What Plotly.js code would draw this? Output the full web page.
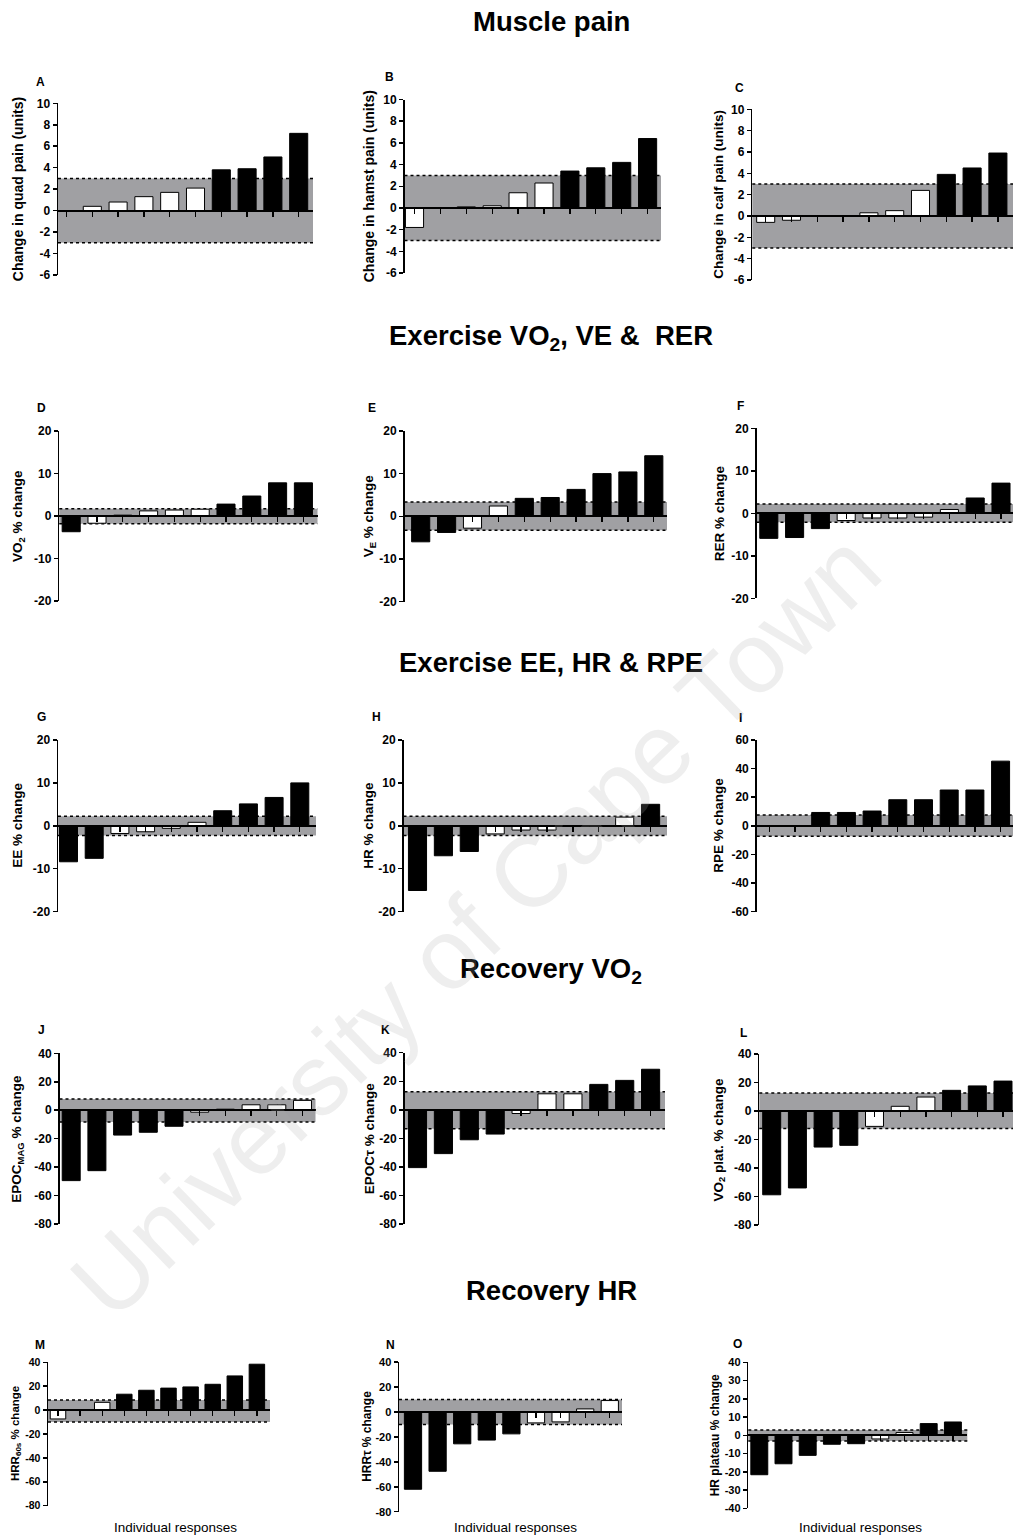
<!DOCTYPE html>
<html>
<head>
<meta charset="utf-8">
<script src="https://cdn.plot.ly/plotly-3.0.1.min.js"></script>
<style>
  html, body { margin: 0; padding: 0; background: #fff; }
  #chart { width: 1015px; height: 1537px; }
</style>
</head>
<body>
<div id="chart"></div>
<script>
// ---- Individual responses (one value per participant, sorted as plotted) ----
const quadPain   = [0, 0.4, 0.8, 1.3, 1.7, 2.1, 3.8, 3.9, 5.0, 7.2];
const hamstPain  = [-1.8, 0, 0.1, 0.2, 1.4, 2.3, 3.4, 3.7, 4.2, 6.4];
const calfPain   = [-0.6, -0.4, 0, 0, 0.3, 0.5, 2.4, 3.9, 4.5, 5.9];
const vo2Change  = [-3.7, -1.7, 0.2, 1.2, 1.4, 1.6, 2.8, 4.7, 7.8, 7.8];
const veChange   = [-6.0, -3.8, -2.8, 2.4, 4.2, 4.4, 6.3, 10.0, 10.4, 14.2];
const rerChange  = [-5.9, -5.7, -3.6, -1.7, -1.1, -1.1, -0.9, 0.9, 3.6, 7.1];
const eeChange   = [-8.4, -7.6, -1.8, -1.4, -0.6, 0.8, 3.5, 5.1, 6.6, 10.0];
const hrChange   = [-15.1, -7.0, -6.0, -1.9, -1.0, -1.0, 0, 0, 2.0, 5.0];
const rpeChange  = [0, 0, 9.3, 9.3, 10.3, 18.2, 18.2, 25, 25, 45.2];
const epocMag    = [-49.5, -42.5, -17.5, -15.5, -11.3, -1.4, 0.7, 3.8, 3.8, 6.9];
const epocTau    = [-40.5, -30.7, -21, -17, -2.6, 11.2, 11.2, 17.8, 20.6, 28.4];
const vo2Plateau = [-58.8, -54, -25.3, -24.1, -10.8, 3.3, 9.8, 14.5, 17.6, 21];
const hrr60      = [-7.4, 0, 6.5, 13.3, 16.6, 18.4, 19.4, 21.6, 28.6, 38.4];
const hrrTau     = [-62, -47.6, -25.6, -22.6, -17.6, -8.8, -8.0, 2.4, 9.1];
const hrPlateau  = [-21.6, -15.6, -11.0, -4.9, -4.6, -2.0, 1.5, 6.4, 7.3];

// ---- Typical-error bands [lower, upper] ----
const bandQuad = [-3, 3],      bandHamst = [-3, 3],    bandCalf = [-3, 3];
const bandVO2 = [-1.8, 1.7],   bandVE = [-3.3, 3.35],  bandRER = [-2.1, 2.2];
const bandEE = [-2.3, 2.2],    bandHR = [-2.3, 2.2],   bandRPE = [-7.3, 7.5];
const bandEpocMag = [-8.3, 7.8], bandEpocTau = [-13.2, 12.6], bandVO2Plat = [-12.3, 12.7];
const bandHRR60 = [-10, 8.5],  bandHRRTau = [-10.2, 10], bandHRPlat = [-3.1, 2.9];

// ---- Axis ranges and tick steps ----
const rangePain = [-6, 10],   stepPain = 2;
const rangeEx   = [-20, 20],  stepEx = 10;
const rangeRPE  = [-60, 60],  stepRPE = 20;
const rangeRec  = [-80, 40],  stepRec = 20;
const rangeHRP  = [-40, 40],  stepHRP = 10;

const panels = [
  {letter: 'A', values: quadPain,   band: bandQuad,    yr: rangePain, dt: stepPain, title: 'Change in quad pain (units)'},
  {letter: 'B', values: hamstPain,  band: bandHamst,   yr: rangePain, dt: stepPain, title: 'Change in hamst pain (units)'},
  {letter: 'C', values: calfPain,   band: bandCalf,    yr: rangePain, dt: stepPain, title: 'Change in calf pain (units)'},
  {letter: 'D', values: vo2Change,  band: bandVO2,     yr: rangeEx,   dt: stepEx,   title: 'VO<sub>2</sub> % change'},
  {letter: 'E', values: veChange,   band: bandVE,      yr: rangeEx,   dt: stepEx,   title: 'V<sub>E</sub> % change'},
  {letter: 'F', values: rerChange,  band: bandRER,     yr: rangeEx,   dt: stepEx,   title: 'RER % change'},
  {letter: 'G', values: eeChange,   band: bandEE,      yr: rangeEx,   dt: stepEx,   title: 'EE % change'},
  {letter: 'H', values: hrChange,   band: bandHR,      yr: rangeEx,   dt: stepEx,   title: 'HR % change'},
  {letter: 'I', values: rpeChange,  band: bandRPE,     yr: rangeRPE,  dt: stepRPE,  title: 'RPE % change'},
  {letter: 'J', values: epocMag,    band: bandEpocMag, yr: rangeRec,  dt: stepRec,  title: 'EPOC<sub>MAG</sub> % change'},
  {letter: 'K', values: epocTau,    band: bandEpocTau, yr: rangeRec,  dt: stepRec,  title: 'EPOC\u03c4 % change'},
  {letter: 'L', values: vo2Plateau, band: bandVO2Plat, yr: rangeRec,  dt: stepRec,  title: 'VO<sub>2</sub> plat. % change'},
  {letter: 'M', values: hrr60,      band: bandHRR60,   yr: rangeRec,  dt: stepRec,  title: 'HRR<sub>60s</sub> % change'},
  {letter: 'N', values: hrrTau,     band: bandHRRTau,  yr: rangeRec,  dt: stepRec,  title: 'HRR\u03c4 % change'},
  {letter: 'O', values: hrPlateau,  band: bandHRPlat,  yr: rangeHRP,  dt: stepHRP,  title: 'HR plateau % change'}
];

const sectionTitles = ['Muscle pain', 'Exercise VO<sub>2</sub>, VE &  RER', 'Exercise EE, HR & RPE',
                       'Recovery VO<sub>2</sub>', 'Recovery HR'];
const xAxisLabel = 'Individual responses';
const watermark = 'University of Cape Town';

// ---- Page geometry (pixels) for each panel ----
// ax: y-axis line, right: end of plot area, top/bot: top and bottom ticks,
// s1: centre of first bar, step: bar pitch, tx: y-title centre, lx/ly: panel letter,
// ts/ks: title and tick-label font sizes
const W = 1015, H = 1537;
const geom = [
  {ax: 58,    right: 313,  top: 103.3,  bot: 275,    s1: 66.5,  step: 25.8, tx: 18,  lx: 40,  ly: 82,   ts: 14,   ks: 12},
  {ax: 404.5, right: 661,  top: 99.5,   bot: 273,    s1: 414.5, step: 25.9, tx: 369, lx: 389, ly: 77,   ts: 14,   ks: 12},
  {ax: 752.3, right: 1013, top: 109.3,  bot: 280,    s1: 765.7, step: 25.8, tx: 719, lx: 739, ly: 88,   ts: 13.5, ks: 12},
  {ax: 59.3,  right: 317.5,top: 431,    bot: 601,    s1: 71.2,  step: 25.8, tx: 18,  lx: 41,  ly: 408,  ts: 13.5, ks: 12},
  {ax: 404.5, right: 667,  top: 431,    bot: 601.5,  s1: 420.7, step: 25.9, tx: 369, lx: 372, ly: 408,  ts: 13.5, ks: 12},
  {ax: 756.5, right: 1013, top: 428.3,  bot: 598.3,  s1: 768.8, step: 25.8, tx: 719, lx: 740, ly: 406,  ts: 13.5, ks: 12},
  {ax: 58,    right: 316,  top: 740,    bot: 911.5,  s1: 68.5,  step: 25.7, tx: 18,  lx: 41,  ly: 717,  ts: 13.5, ks: 12},
  {ax: 403.5, right: 667,  top: 740,    bot: 911.5,  s1: 417.5, step: 25.9, tx: 369, lx: 376, ly: 717,  ts: 13.5, ks: 12},
  {ax: 756.7, right: 1013, top: 740,    bot: 911.5,  s1: 769.3, step: 25.7, tx: 719, lx: 740, ly: 718,  ts: 13.5, ks: 12},
  {ax: 59.5,  right: 315.5,top: 1053.3, bot: 1224,   s1: 71.2,  step: 25.7, tx: 18,  lx: 41,  ly: 1030, ts: 13.5, ks: 12},
  {ax: 404.5, right: 665,  top: 1052.7, bot: 1224,   s1: 417.5, step: 25.9, tx: 369, lx: 385, ly: 1030, ts: 13.5, ks: 12},
  {ax: 759.3, right: 1013, top: 1054,   bot: 1225,   s1: 771.7, step: 25.7, tx: 719, lx: 743, ly: 1033, ts: 13.5, ks: 12},
  {ax: 48,    right: 270,  top: 1362.3, bot: 1505.7, s1: 58,    step: 22.1, tx: 16,  lx: 40,  ly: 1345, ts: 11.5, ks: 10.5},
  {ax: 399,   right: 622,  top: 1362,   bot: 1511.7, s1: 413,   step: 24.6, tx: 367, lx: 390, ly: 1345, ts: 12,   ks: 11},
  {ax: 748.3, right: 967.3,top: 1362.3, bot: 1508.3, s1: 759.3, step: 24.2, tx: 715, lx: 737, ly: 1344, ts: 12,   ks: 11}
];
const sectionY = [22, 337, 662, 970, 1290];
const sectionX = 551;
const xLabelPos = [[175, 1527], [515, 1527], [860, 1527]];

const FONT = 'Liberation Sans, Arial, Helvetica, sans-serif';
const NARROW = 'Liberation Sans Narrow, Arial Narrow, Liberation Sans, sans-serif';
const BAND_FILL = '#a0a0a3';

const px = x => x / W;
const py = y => 1 - y / H;

const traces = [];
const layout = {
  width: W, height: H,
  margin: {l: 0, r: 0, t: 0, b: 0},
  paper_bgcolor: '#fff',
  plot_bgcolor: 'rgba(0,0,0,0)',
  showlegend: false,
  bargap: 0,
  shapes: [],
  annotations: []
};

panels.forEach((p, i) => {
  const g = geom[i];
  const k = i === 0 ? '' : String(i + 1);
  const xa = 'xaxis' + k, ya = 'yaxis' + k;
  const xr = 'x' + k, yr = 'y' + k;
  const idx = p.values.map((_, j) => j);
  // responders (outside the typical-error band) are filled black
  const fills = p.values.map(v => (v > p.band[1] || v < p.band[0]) ? '#000' : '#fff');

  traces.push({
    type: 'bar', x: idx, y: p.values, xaxis: xr, yaxis: yr,
    width: 0.7,
    marker: {color: fills, line: {color: '#000', width: 1}},
    hoverinfo: 'skip', showlegend: false
  });

  const yDom = [py(g.bot), py(g.top)];
  const zeroPos = yDom[0] + (0 - p.yr[0]) / (p.yr[1] - p.yr[0]) * (yDom[1] - yDom[0]);

  layout[xa] = {
    domain: [px(g.ax), px(g.right)],
    range: [(g.ax - g.s1) / g.step, (g.right - g.s1) / g.step],
    anchor: 'free', position: zeroPos,
    showgrid: false, zeroline: false,
    showline: true, linecolor: '#000', linewidth: 2,
    ticks: 'outside', ticklen: 5, tickwidth: 1.3, tickcolor: '#000',
    tickvals: idx, showticklabels: false, fixedrange: true
  };

  const tv = [];
  for (let v = p.yr[0]; v <= p.yr[1] + 1e-9; v += p.dt) tv.push(v);
  layout[ya] = {
    domain: yDom,
    range: p.yr,
    anchor: xr,
    showgrid: false, zeroline: false,
    showline: true, linecolor: '#000', linewidth: 1.5,
    ticks: 'outside', ticklen: 4, tickwidth: 1.5, tickcolor: '#000',
    tickvals: tv, ticktext: tv.map(v => '<b>' + String(v) + '</b>'),
    tickfont: {family: FONT, size: g.ks, color: '#000'},
    fixedrange: true
  };

  // typical-error band with dotted limits
  layout.shapes.push({type: 'rect', xref: xr + ' domain', yref: yr, x0: 0, x1: 1,
    y0: p.band[0], y1: p.band[1], fillcolor: BAND_FILL, line: {width: 0}, layer: 'below'});
  p.band.forEach(b => layout.shapes.push({type: 'line', xref: xr + ' domain', yref: yr,
    x0: 0, x1: 1, y0: b, y1: b, line: {color: '#000', width: 1.5, dash: 'dot'}, layer: 'below'}));

  // y-axis title
  layout.annotations.push({
    text: '<b>' + p.title + '</b>', textangle: -90,
    xref: 'paper', yref: 'paper', x: px(g.tx), y: py((g.top + g.bot) / 2),
    xanchor: 'center', yanchor: 'middle', showarrow: false,
    font: {family: FONT, size: g.ts, color: '#000'}
  });
  // panel letter
  layout.annotations.push({
    text: '<b>' + p.letter + '</b>',
    xref: 'paper', yref: 'paper', x: px(g.lx), y: py(g.ly),
    xanchor: 'center', yanchor: 'middle', showarrow: false,
    font: {family: FONT, size: 12, color: '#000'}
  });
});

sectionTitles.forEach((t, i) => {
  layout.annotations.push({
    text: '<b>' + t + '</b>', xref: 'paper', yref: 'paper',
    x: px(sectionX), y: py(sectionY[i]), xanchor: 'center', yanchor: 'middle',
    showarrow: false, font: {family: FONT, size: 27.5, color: '#000'}
  });
});

xLabelPos.forEach(([x, y]) => {
  layout.annotations.push({
    text: xAxisLabel, xref: 'paper', yref: 'paper', x: px(x), y: py(y),
    xanchor: 'center', yanchor: 'middle', showarrow: false,
    font: {family: NARROW, size: 13.5, color: '#000'}
  });
});

// faint diagonal watermark
layout.annotations.push({
  text: watermark, xref: 'paper', yref: 'paper', x: px(475), y: py(925),
  xanchor: 'center', yanchor: 'middle', textangle: -44, showarrow: false,
  font: {family: FONT, size: 100, color: 'rgba(170,170,170,0.2)'}
});

Plotly.newPlot('chart', traces, layout, {staticPlot: true, displayModeBar: false});
</script>
</body>
</html>
